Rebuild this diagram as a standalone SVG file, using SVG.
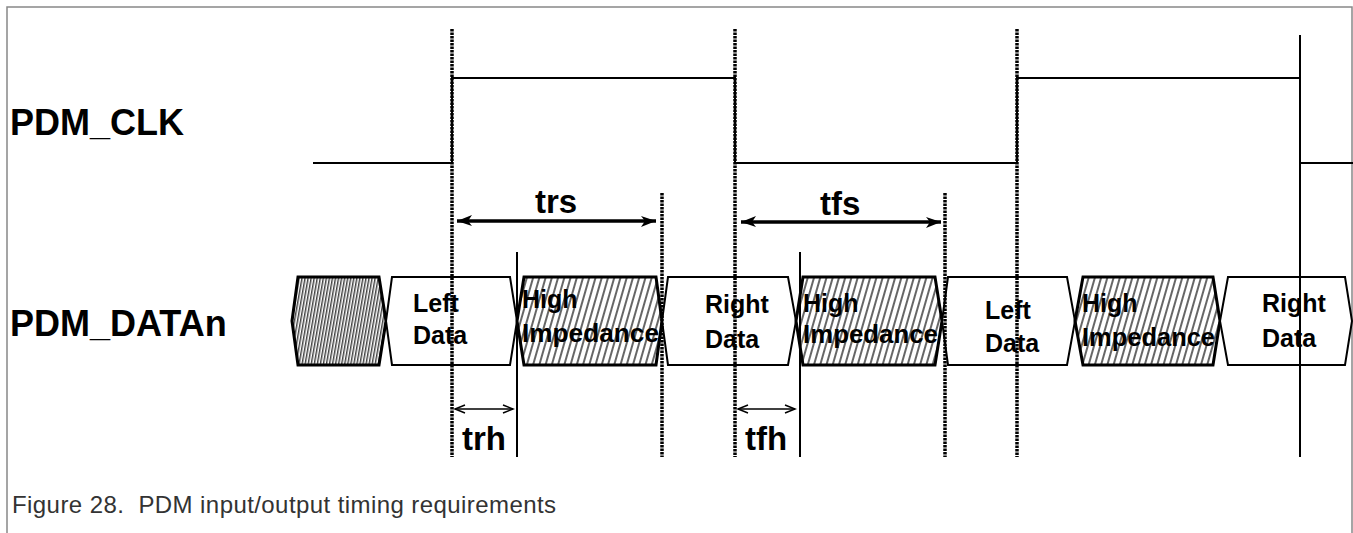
<svg xmlns="http://www.w3.org/2000/svg" width="1353" height="533" viewBox="0 0 1353 533">
<style>
.lbl{font-family:"Liberation Sans",Arial,sans-serif;font-weight:bold;fill:#000}
.big{font-size:36px}
.tm{font-size:33px}
.bx{font-size:25px}
.cap{font-family:"Liberation Sans",Arial,sans-serif;font-size:24px;fill:#333;white-space:pre}
.frame{fill:none;stroke:#888;stroke-width:1.5}
.clk{fill:none;stroke:#000;stroke-width:2}
.dot{stroke:#000;stroke-width:3.5;stroke-dasharray:2.5 1}
.sol{stroke:#000;stroke-width:2}
.data{fill:#fff;stroke:#000;stroke-width:2}
.hiz{fill:url(#hatch);stroke:#000;stroke-width:3}
.dense{fill:url(#hatchDense);stroke:#000;stroke-width:3}
.thick{stroke:#000;stroke-width:3.5;marker-start:url(#bigArr);marker-end:url(#bigArr)}
.thin{stroke:#000;stroke-width:1.5;marker-start:url(#smArr);marker-end:url(#smArr)}
</style>
<defs>
<pattern id="hatch" patternUnits="userSpaceOnUse" width="6" height="12" patternTransform="rotate(16)">
<rect width="6" height="12" fill="#fff"/>
<line x1="1" y1="0" x2="1" y2="12" stroke="#000" stroke-width="1.2"/>
</pattern>
<pattern id="hatchDense" patternUnits="userSpaceOnUse" width="3" height="12" patternTransform="rotate(10)">
<rect width="3" height="12" fill="#fff"/>
<line x1="0.8" y1="0" x2="0.8" y2="12" stroke="#000" stroke-width="1.1"/>
</pattern>
<marker id="bigArr" markerUnits="userSpaceOnUse" markerWidth="20" markerHeight="16" viewBox="-16 -8 20 16" refX="0" refY="0" orient="auto-start-reverse">
<path d="M0,0 L-15,-5 L-11,0 L-15,6 Z" fill="#000"/>
</marker>
<marker id="smArr" markerUnits="userSpaceOnUse" markerWidth="14" markerHeight="12" viewBox="-12 -6 14 12" refX="0" refY="0" orient="auto-start-reverse">
<path d="M-10,-4 L0,0 L-10,4" fill="none" stroke="#000" stroke-width="1.5"/>
</marker>
</defs>

<rect width="1353" height="533" fill="#fff"/>
<path class="frame" d="M7,533 L7,7 L1352,7 L1352,533"/>

<g id="label-clk"><text class="lbl big" x="10" y="135">PDM_CLK</text></g>
<g id="label-data"><text class="lbl big" x="10" y="336">PDM_DATAn</text></g>

<g id="clock">
<polyline class="clk" points="313,163 452,163 452,78 735,78 735,163 1017,163 1017,78 1300,78 1300,163 1353,163"/>
</g>

<g id="data-boxes">
<g id="box0"><polygon class="dense" points="292,321 298,277 379,277 386,321 379,365 298,365"/></g>
<g id="box1"><polygon class="data" points="386,321 392,277 510,277 517,321 510,365 392,365"/>
<text class="lbl bx" x="413" y="312">Left</text><text class="lbl bx" x="413" y="344">Data</text></g>
<g id="box2"><polygon class="hiz" points="517,321 524,277 656,277 662,321 656,365 524,365"/>
<text class="lbl bx" x="522" y="308">High</text><text class="lbl bx" x="522" y="342" textLength="137" lengthAdjust="spacingAndGlyphs">Impedance</text></g>
<g id="box3"><polygon class="data" points="662,321 668,277 788,277 796,321 788,365 668,365"/>
<text class="lbl bx" x="705" y="313">Right</text><text class="lbl bx" x="705" y="348">Data</text></g>
<g id="box4"><polygon class="hiz" points="796,321 803,277 935,277 942,321 935,365 803,365"/>
<text class="lbl bx" x="803" y="312">High</text><text class="lbl bx" x="803" y="343" textLength="135" lengthAdjust="spacingAndGlyphs">Impedance</text></g>
<g id="box5"><polygon class="data" points="942,321 948,277 1067,277 1075,321 1067,365 948,365"/>
<text class="lbl bx" x="985" y="319">Left</text><text class="lbl bx" x="985" y="352">Data</text></g>
<g id="box6"><polygon class="hiz" points="1075,321 1083,277 1213,277 1220,321 1213,365 1083,365"/>
<text class="lbl bx" x="1082" y="312">High</text><text class="lbl bx" x="1082" y="346" textLength="133" lengthAdjust="spacingAndGlyphs">Impedance</text></g>
<g id="box7"><polygon class="data" points="1220,321 1228,277 1345,277 1352,321 1345,365 1228,365"/>
<text class="lbl bx" x="1262" y="312">Right</text><text class="lbl bx" x="1262" y="347">Data</text></g>
</g>

<g id="connectors">
<line class="dot" x1="452" y1="29" x2="452" y2="457"/>
<line class="dot" x1="735" y1="29" x2="735" y2="457"/>
<line class="dot" x1="1017" y1="29" x2="1017" y2="457"/>
<line class="sol" x1="1300" y1="35" x2="1300" y2="457"/>
<line class="dot" x1="662" y1="193" x2="662" y2="457"/>
<line class="dot" x1="945" y1="193" x2="945" y2="457"/>
<line class="sol" x1="517" y1="252" x2="517" y2="457"/>
<line class="sol" x1="800" y1="252" x2="800" y2="457"/>
<line class="thick" x1="457" y1="221" x2="656" y2="221"/>
<line class="thick" x1="741" y1="222" x2="941" y2="222"/>
<line class="thin" x1="455" y1="409" x2="513" y2="409"/>
<line class="thin" x1="738" y1="409" x2="795" y2="409"/>
</g>

<g id="timing-labels">
<text class="lbl tm" x="535" y="213">trs</text>
<text class="lbl tm" x="820" y="215">tfs</text>
<text class="lbl tm" x="462" y="450">trh</text>
<text class="lbl tm" x="745" y="450">tfh</text>
</g>

<g id="caption"><text class="cap" x="12" y="513" textLength="544" lengthAdjust="spacing" xml:space="preserve">Figure 28.  PDM input/output timing requirements</text></g>
</svg>
